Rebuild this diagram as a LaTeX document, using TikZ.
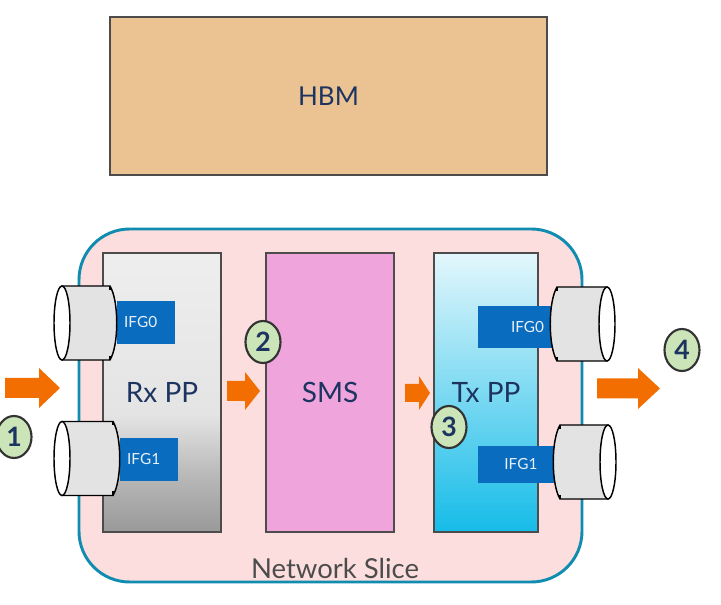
\documentclass[tikz,border=0pt]{standalone}
\usepackage{fontspec}
\setmainfont{Lato}
\usepackage{xcolor}
\usetikzlibrary{positioning,shapes.geometric}
\definecolor{navytext}{HTML}{1D3461}
\definecolor{hbmfill}{HTML}{EBC291}
\definecolor{slicefill}{HTML}{FDDEDE}
\definecolor{sliceline}{HTML}{0F8CB0}
\definecolor{smsfill}{HTML}{EFA5DC}
\definecolor{ifgblue}{HTML}{0A6CBF}
\definecolor{flowcolor}{HTML}{F26E00}
\definecolor{badgefill}{HTML}{CBE5B8}
\definecolor{rxa}{HTML}{EEEEEE}
\definecolor{rxb}{HTML}{E4E4E4}
\definecolor{rxc}{HTML}{B8B8B8}
\definecolor{rxd}{HTML}{999999}
\definecolor{txa}{HTML}{E3F7FC}
\definecolor{txb}{HTML}{16BCE8}
\pgfdeclareverticalshading{rxshade}{100bp}{color(0bp)=(rxd); color(25bp)=(rxd); color(35bp)=(rxc); color(46bp)=(rxb); color(75bp)=(rxa); color(100bp)=(rxa)}
\def\pxu{0.75pt}
\tikzset{
    blockbox/.style={draw=black!70, line width=1.1pt, inner sep=0pt, text=navytext, font=\fontsize{21}{24}\selectfont},
    ifgbox/.style={fill=ifgblue, inner sep=0pt, text=white!90!ifgblue, font=\fontsize{11.5}{14}\selectfont},
    badge/.style={ellipse, draw=black!80, line width=1.6pt, fill=badgefill, inner sep=0pt, minimum width=35*\pxu, minimum height=42*\pxu, text=navytext, font=\bfseries\fontsize{20}{24}\selectfont},
    pics/cable/.style={code={
        \draw[fill=black!11, line width=1.1pt] (0,-37) -- (#1-7,-37) .. controls (#1+2,-22) and (#1+2,22) .. (#1-7,37) -- (0,37) -- cycle;
        \draw[line width=1pt] (#1-7,-37) -- ++(0,4) (#1-7,37) -- ++(0,-4);
        \draw[fill=white, line width=1.1pt] (0,0) ellipse (8 and 37);
    }}
}
\begin{document}
\begin{tikzpicture}[x=0.75pt,y=-0.75pt]
    \useasboundingbox (0,0) rectangle (721,605);

    % Memory on top
    \node[blockbox, fill=hbmfill, minimum width=437*\pxu, minimum height=158*\pxu, font=\fontsize{19.5}{24}\selectfont] (hbm) at (328.5,96) {HBM};

    % Slice outline and its three blocks
    \node[draw=sliceline, fill=slicefill, line width=2.2pt, rounded corners=38pt, minimum width=503*\pxu, minimum height=353*\pxu, inner sep=0pt] (slice) at (330.5,405.5) {};
    \node[blockbox, shading=rxshade, minimum width=118*\pxu, minimum height=279*\pxu] (rxpp) at (162,392.5) {Rx PP};
    \node[blockbox, fill=smsfill, minimum width=128*\pxu, minimum height=279*\pxu] (sms) at (330,392.5) {SMS};
    \node[blockbox, top color=txa, bottom color=txb, minimum width=104*\pxu, minimum height=279*\pxu] (txpp) at (486,392.5) {Tx PP};
    \node[text=black!70, font=\fontsize{20.6}{24}\selectfont] (slicelabel) at (335,568) {Network Slice};

    % Interface groups
    \node[ifgbox, minimum width=58*\pxu, minimum height=43*\pxu] (ifgrx0) at (146,322.5) {IFG0\hspace*{8pt}};
    \node[ifgbox, minimum width=58*\pxu, minimum height=43*\pxu] (ifgrx1) at (149,459.5) {IFG1\hspace*{8pt}};
    \node[ifgbox, minimum width=77*\pxu, minimum height=42*\pxu, anchor=east] (ifgtx0) at (555,327) {\hspace*{25pt}IFG0\hspace*{8pt}};
    \node[ifgbox, minimum width=77*\pxu, minimum height=37*\pxu, anchor=east] (ifgtx1) at (555,464.5) {\hspace*{20pt}IFG1\hspace*{13pt}};

    % Cables
    \pic at (62,323) {cable=55};
    \pic at (62,458.5) {cable=58};
    \pic[xscale=-1] at (607,324) {cable=57};
    \pic[xscale=-1] at (608,462) {cable=55};

    % Traffic arrows
    \foreach \xa/\xb/\xc/\ym/\hw/\sw in {5/39/60/388/20/10, 227/245/260/391/19/10, 405/419/430/393/17/9, 597/638/660/388.5/20.5/10} {
        \fill[flowcolor] (\xa,\ym-\sw) -- (\xb,\ym-\sw) -- (\xb,\ym-\hw) -- (\xc,\ym) -- (\xb,\ym+\hw) -- (\xb,\ym+\sw) -- (\xa,\ym+\sw) -- cycle;
    }

    % Numbered steps
    \node[badge] (stepa) at (14,437) {1};
    \node[badge] (stepb) at (263,342) {2};
    \node[badge] (stepc) at (449,427) {3};
    \node[badge] (stepd) at (682,350) {4};
\end{tikzpicture}
\end{document}
